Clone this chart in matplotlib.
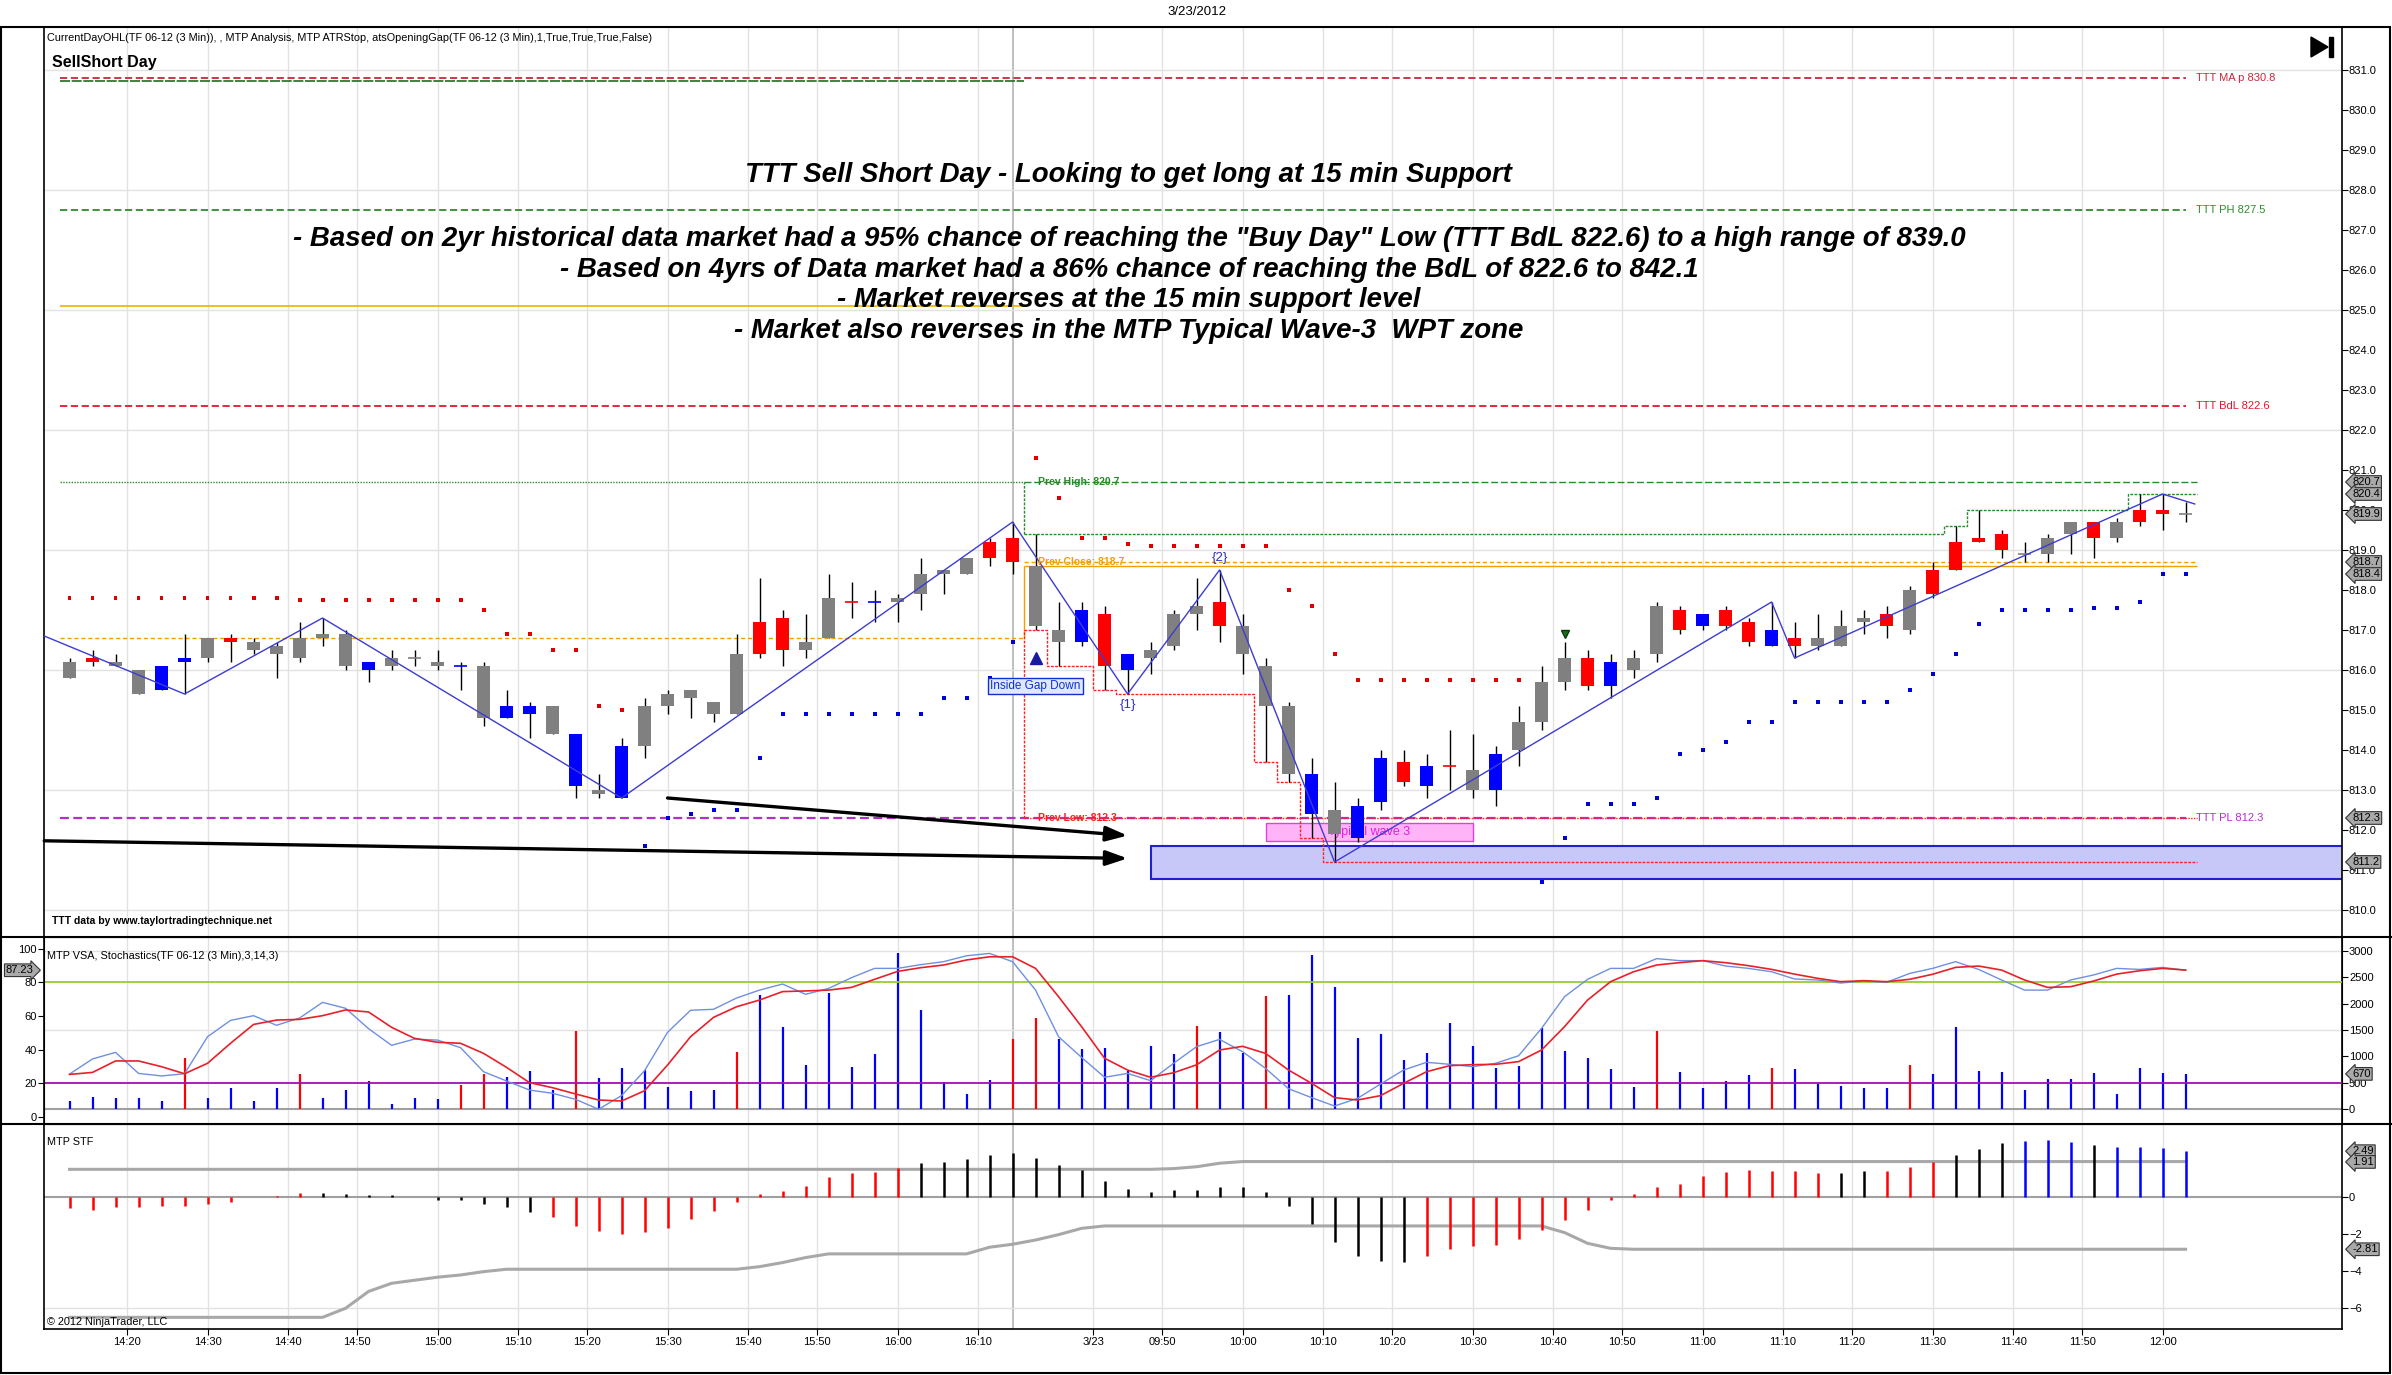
import numpy as np
import matplotlib
matplotlib.use('Agg')
import matplotlib.pyplot as plt
import matplotlib.transforms as mtransforms
from matplotlib.patches import Rectangle, Polygon
from matplotlib.lines import Line2D

plt.rcParams['font.family'] = ['Liberation Sans', 'DejaVu Sans']

# ---------------- data (TF 06-12, 3 min bars) ----------------
opens = [815.8, 816.3, 816.2, 816.0, 815.5, 816.2, 816.3, 816.8, 816.7, 816.6,
         816.3, 816.8, 816.9, 816.0, 816.1, 816.3, 816.2, 816.1, 816.1, 814.8,
         815.1, 815.1, 814.4, 813.0, 812.8, 814.1, 815.1, 815.5, 815.2, 814.9,
         816.4, 817.3, 816.5, 816.8, 817.7, 817.7, 817.7, 817.9, 818.4, 818.4,
         818.8, 819.3, 818.6, 816.7, 816.7, 817.4, 816.0, 816.3, 816.6, 817.4,
         817.7, 817.1, 816.1, 815.1, 813.4, 812.5, 811.8, 812.7, 813.7, 813.1,
         813.6, 813.5, 813.0, 814.0, 814.7, 815.7, 816.3, 815.6, 816.0, 816.4,
         817.5, 817.1, 817.5, 817.2, 817.0, 816.6, 816.8, 816.6, 817.2, 817.4,
         817.0, 817.9, 818.5, 819.2, 819.4, 818.9, 818.9, 819.4, 819.7, 819.3,
         819.7, 820.0, 819.9]
highs = [816.3, 816.5, 816.4, 816.0, 816.1, 816.9, 816.8, 816.9, 816.8, 816.7,
         817.2, 817.3, 817.0, 816.2, 816.5, 816.5, 816.5, 816.2, 816.2, 815.5,
         815.2, 815.1, 814.4, 813.4, 814.3, 815.3, 815.5, 815.5, 815.2, 816.9,
         818.3, 817.5, 817.4, 818.4, 818.2, 818.0, 817.9, 818.8, 818.5, 818.8,
         819.3, 819.7, 819.4, 817.7, 817.7, 817.6, 816.4, 816.7, 817.5, 818.3,
         818.5, 817.4, 816.3, 815.2, 813.8, 813.2, 812.8, 814.0, 814.0, 813.9,
         814.5, 814.4, 814.1, 815.1, 816.1, 816.7, 816.5, 816.4, 816.5, 817.7,
         817.6, 817.4, 817.6, 817.3, 817.7, 817.2, 817.4, 817.5, 817.5, 817.6,
         818.1, 818.7, 819.6, 820.0, 819.5, 819.2, 819.4, 819.7, 819.7, 819.8,
         820.4, 820.4, 820.2]
lows = [815.8, 816.1, 816.1, 815.4, 815.5, 815.4, 816.2, 816.2, 816.4, 815.8,
        816.2, 816.6, 816.0, 815.7, 816.0, 816.1, 816.0, 815.5, 814.6, 814.8,
        814.3, 814.4, 812.8, 812.8, 812.8, 813.8, 814.9, 814.8, 814.7, 814.9,
        816.3, 816.1, 816.3, 816.8, 817.3, 817.2, 817.2, 817.5, 817.9, 818.4,
        818.6, 818.4, 817.0, 816.1, 816.6, 815.5, 815.4, 815.9, 816.5, 817.0,
        816.7, 815.9, 813.7, 813.2, 811.8, 811.2, 811.7, 812.5, 813.1, 812.8,
        813.0, 812.8, 812.6, 813.6, 814.5, 815.5, 815.5, 815.3, 815.8, 816.2,
        816.9, 817.0, 817.0, 816.6, 816.6, 816.3, 816.5, 816.6, 816.9, 816.8,
        816.9, 817.8, 818.5, 819.2, 818.8, 818.7, 818.7, 818.9, 818.8, 819.2,
        819.6, 819.5, 819.7]
closes = [816.2, 816.2, 816.1, 815.4, 816.1, 816.3, 816.8, 816.7, 816.5, 816.4,
          816.8, 816.9, 816.1, 816.2, 816.3, 816.3, 816.1, 816.1, 814.8, 815.1,
          814.9, 814.4, 813.1, 812.9, 814.1, 815.1, 815.4, 815.3, 814.9, 816.4,
          817.2, 816.5, 816.7, 817.8, 817.7, 817.7, 817.8, 818.4, 818.5, 818.8,
          819.2, 818.7, 817.1, 817.0, 817.5, 816.1, 816.4, 816.5, 817.4, 817.6,
          817.1, 816.4, 815.1, 813.4, 812.4, 811.9, 812.6, 813.8, 813.2, 813.6,
          813.6, 813.0, 813.9, 814.7, 815.7, 816.3, 815.6, 816.2, 816.3, 817.6,
          817.0, 817.4, 817.1, 816.7, 816.6, 816.8, 816.6, 817.1, 817.3, 817.1,
          818.0, 818.5, 819.2, 819.3, 819.0, 818.9, 819.3, 819.7, 819.3, 819.7,
          820.0, 819.9, 819.9]
candle_colors = ("grggbbgrgg" "gggbgggbgb" "bgbgbggggg" "rrggrbgggg" "rrggbrbggg"
                 "rgggbgbbrb" "rgbgggrbgg" "rbrrbrgggr" "grrrrgggrg" "rrg")

# ATR stop dots
stop_vals = [817.8, 817.8, 817.8, 817.8, 817.8, 817.8, 817.8, 817.8, 817.8, 817.8,
             817.75, 817.75, 817.75, 817.75, 817.75, 817.75, 817.75, 817.75, 817.5, 816.9,
             816.9, 816.5, 816.5, 815.1, 815.0, 811.6, 812.3, 812.4, 812.5, 812.5,
             813.8, 814.9, 814.9, 814.9, 814.9, 814.9, 814.9, 814.9, 815.3, 815.3,
             815.8, 816.7, 821.3, 820.3, 819.3, 819.3, 819.15, 819.1, 819.1, 819.1,
             819.1, 819.1, 819.1, 818.0, 817.6, 816.4, 815.75, 815.75, 815.75, 815.75,
             815.75, 815.75, 815.75, 815.75, 810.7, 811.8, 812.65, 812.65, 812.65, 812.8,
             813.9, 814.0, 814.2, 814.7, 814.7, 815.2, 815.2, 815.2, 815.2, 815.2,
             815.5, 815.9, 816.4, 817.15, 817.5, 817.5, 817.5, 817.5, 817.55, 817.55,
             817.7, 818.4, 818.4]
stop_colors = ("rrrrrrrrrr" "rrrrrrrrrr" "rrrrrbbbbb" "bbbbbbbbbb" "bbrrrrrrrr"
               "rrrrrrrrrr" "rrrrbbbbbb" "bbbbbbbbbb" "bbbbbbbbbb" "bbb")

# zigzag swing points (bar index, price)
zz_x = [-1.1, 5, 11, 24, 41, 46, 50, 55, 74, 75, 91, 92.4]
zz_y = [816.85, 815.4, 817.3, 812.8, 819.7, 815.4, 818.5, 811.2, 817.7, 816.3, 820.4, 820.15]

# volume (VSA)
volume = [158, 233, 214, 214, 158, 971, 214, 403, 158, 403,
          668, 214, 366, 536, 101, 214, 195, 460, 668, 612,
          725, 366, 1482, 593, 782, 744, 422, 347, 366, 1084,
          2163, 1557, 839, 2200, 801, 1047, 2957, 1879, 517, 290,
          555, 1330, 1727, 1330, 1141, 1160, 725, 1198, 1047, 1576,
          1463, 1066, 2144, 2163, 2919, 2314, 1349, 1425, 933, 1066,
          1633, 1198, 782, 820, 1538, 1103, 971, 763, 422, 1482,
          706, 403, 536, 649, 782, 763, 479, 441, 403, 403,
          839, 668, 1557, 725, 706, 366, 574, 574, 687, 290,
          782, 687, 670]
volume_colors = ("bbbbbrbbbb" "rbbbbbbrrb" "bbrbbbbbbr" "bbbbbbbbbb" "brrbbbbbbr"
                 "bbrbbbbbbb" "bbbbbbbbbr" "bbbbrbbbbb" "rbbbbbbbbb" "bbb")

# stochastics (3,14,3)
stoch_k = [25.5, 34.5, 38.4, 25.9, 24.4, 25.7, 47.7, 57.4, 60.2, 54.5,
           58.8, 68.1, 64.6, 52.5, 42.6, 46.3, 45.7, 41.2, 26.9, 21.4,
           16.0, 14.1, 10.5, 4.6, 12.7, 27.5, 50.3, 63.4, 64.0, 70.7,
           75.4, 79.0, 72.9, 76.4, 82.8, 88.3, 88.3, 90.5, 92.3, 95.8,
           97.2, 92.3, 75.4, 47.7, 35.4, 23.6, 25.9, 21.6, 31.9, 41.8,
           46.1, 38.8, 28.9, 16.8, 11.5, 6.5, 11.1, 19.6, 27.9, 32.5,
           31.3, 29.9, 31.9, 36.4, 52.7, 71.5, 81.8, 88.3, 88.3, 94.1,
           92.9, 92.9, 89.7, 88.3, 86.3, 82.0, 81.4, 79.6, 80.8, 80.0,
           85.3, 88.3, 92.3, 87.7, 81.4, 75.4, 75.4, 81.4, 84.4, 88.3,
           87.7, 88.9, 87.2]
stoch_d = [25.3, 26.5, 33.3, 33.3, 29.9, 25.7, 31.9, 43.8, 55.0, 57.6,
           58.0, 60.2, 63.6, 62.4, 53.3, 46.7, 44.4, 43.8, 37.8, 29.5,
           20.4, 17.4, 13.7, 10.1, 9.5, 15.6, 30.9, 47.7, 59.2, 65.5,
           69.5, 74.5, 74.9, 75.4, 77.0, 81.8, 86.5, 88.7, 90.3, 93.3,
           95.2, 95.2, 88.3, 71.5, 53.7, 34.9, 27.9, 23.6, 26.3, 31.0,
           39.8, 42.0, 37.8, 27.9, 20.0, 11.5, 10.1, 12.7, 20.0, 26.9,
           30.5, 31.1, 31.3, 32.9, 39.8, 53.7, 69.5, 80.4, 86.3, 90.3,
           91.7, 92.9, 91.7, 89.9, 87.7, 84.9, 82.4, 80.4, 81.0, 80.4,
           81.8, 84.8, 88.9, 89.7, 87.3, 81.4, 77.0, 77.4, 80.8, 84.9,
           86.9, 88.3, 87.3]

# MTP STF histogram and bands
stf = [-0.56, -0.68, -0.50, -0.50, -0.47, -0.47, -0.36, -0.23, 0.0, 0.05,
       0.22, 0.22, 0.16, 0.11, 0.11, 0.0, -0.13, -0.13, -0.34, -0.50,
       -0.79, -1.05, -1.53, -1.80, -1.96, -1.86, -1.64, -1.15, -0.72, -0.23,
       0.16, 0.34, 0.61, 1.10, 1.30, 1.39, 1.60, 1.84, 1.91, 2.07,
       2.27, 2.40, 2.13, 1.75, 1.48, 0.88, 0.45, 0.29, 0.38, 0.38,
       0.56, 0.56, 0.27, -0.47, -1.44, -2.40, -3.15, -3.42, -3.48, -3.15,
       -2.79, -2.61, -2.56, -2.23, -1.75, -1.21, -0.67, -0.13, 0.18, 0.56,
       0.72, 1.15, 1.37, 1.48, 1.42, 1.42, 1.32, 1.32, 1.42, 1.42,
       1.64, 1.91, 2.29, 2.61, 2.94, 3.05, 3.10, 2.99, 2.83, 2.72,
       2.72, 2.67, 2.49]
stf_colors = ("rrrrrrrrrr" "rkkkkkkkkk" "krrrrrrrrr" "rrrrrrrkkk" "kkkkkkkkkk"
              "kkkkkkkkkr" "rrrrrrrrrr" "rrrrrrrkkr" "rrkkkbbbkb" "bbb")
upper_band_x = [0, 47, 48, 49, 50, 51, 92]
upper_band_y = [1.51, 1.51, 1.55, 1.65, 1.84, 1.93, 1.93]
lower_band_x = [0, 11, 12, 13, 14, 16, 17, 18, 19, 29, 30, 31, 32, 33, 39, 40, 41,
                42, 43, 44, 45, 64, 65, 66, 67, 68, 92]
lower_band_y = [-6.49, -6.49, -6.0, -5.09, -4.65, -4.32, -4.2, -4.02, -3.89, -3.89,
                -3.75, -3.53, -3.26, -3.06, -3.06, -2.70, -2.54, -2.31, -2.02, -1.68,
                -1.55, -1.55, -1.91, -2.49, -2.76, -2.81, -2.81]

# levels
ttt_levels = [830.8, 827.5, 822.6, 812.3]
ttt_labels = ['TTT MA p 830.8', 'TTT PH 827.5', 'TTT BdL 822.6', 'TTT PL 812.3']
ttt_colors = ['#c8283c', '#2e8b2e', '#e8142c', '#b030c8']
prior_ma, prior_mid = 830.72, 825.1
prev_high, prev_close, prev_low, prev_open = 820.7, 818.7, 812.3, 816.8
day_open = 818.6
price_tags = [820.7, 820.4, 819.9, 818.7, 818.4, 812.3, 811.2]

# sessions / time axis
session1_start, session1_bars = '14:12', 42
session2_start = '09:33'
tick_labels = ['14:20', '14:30', '14:40', '14:50', '15:00', '15:10', '15:20', '15:30',
               '15:40', '15:50', '16:00', '16:10', '3/23', '09:50', '10:00', '10:10',
               '10:20', '10:30', '10:40', '10:50', '11:00', '11:10', '11:20', '11:30',
               '11:40', '11:50', '12:00']
tick_times = tick_labels[:12] + ['09:40'] + tick_labels[13:]

text_lines = ['TTT Sell Short Day - Looking to get long at 15 min Support',
              '- Based on 2yr historical data market had a 95% chance of reaching the "Buy Day" Low (TTT BdL 822.6) to a high range of 839.0',
              '- Based on 4yrs of Data market had a 86% chance of reaching the BdL of 822.6 to 842.1',
              '- Market reverses at the 15 min support level',
              '- Market also reverses in the MTP Typical Wave-3  WPT zone']


def minutes(t):
    hh, mm = t.split(':')
    return int(hh) * 60 + int(mm)


tick_pos = []
for t in tick_times:
    m = minutes(t)
    if m >= minutes(session1_start):
        k = (m - minutes(session1_start)) / 3
    else:
        k = session1_bars + (m - minutes(session2_start)) / 3
    tick_pos.append(np.round(k * 2) / 2)
session_break = session1_bars - 1

cmap = {'g': '#808080', 'r': '#ff0000', 'b': '#0000ff', 'k': '#000000'}
n = len(opens)
x = np.arange(n)
o, h, l, c = (np.array(v) for v in (opens, highs, lows, closes))

W, H = 2392.0, 1375.0
fig = plt.figure(figsize=(W / 100, H / 100), dpi=100)


def panel(y0, y1):
    return fig.add_axes([44 / W, 1 - y1 / H, (2342 - 44) / W, (y1 - y0) / H])


ax1 = panel(27, 937)
ax2 = panel(937, 1124)
ax3 = panel(1124, 1329)
XL = (-1.11, 98.8)
grid_c = '#e2e2e2'

for ax in (ax1, ax2, ax3):
    ax.set_xlim(*XL)
    ax.set_xticks(tick_pos)
    for p in tick_pos:
        ax.axvline(p, color=grid_c, lw=1, zorder=0)
    ax.axvline(session_break, color='#b4b4b4', lw=1.2, zorder=0)
    for s in ax.spines.values():
        s.set_linewidth(1.2)
    ax.tick_params(axis='x', length=0, labelbottom=False)

# ---------------- price panel ----------------
ax1.set_ylim(809.325, 832.075)
ax1.yaxis.tick_right()
ax1.set_yticks(np.arange(810, 832, 1.0))
ax1.set_yticklabels(['%.1f' % v for v in np.arange(810, 832, 1.0)])
ax1.tick_params(axis='y', labelsize=8, length=4, direction='out', pad=1)
for g in np.arange(810, 832, 3):
    ax1.axhline(g, color=grid_c, lw=1, zorder=0)

# zones
ax1.add_patch(Rectangle((47.0, 810.77), 60, 0.83, fc='#c8c8f8', ec='#2020d0', lw=1.5, zorder=1))
ax1.add_patch(Rectangle((52.0, 811.73), 9.04, 0.44, fc='#ffb4f8', ec='#e040e0', lw=1, zorder=1))
ax1.text(56.5, 811.96, 'Typical wave 3', color='#e020e0', fontsize=9, ha='center', va='center', zorder=1.5)

# TTT levels
for v, lab, col in zip(ttt_levels, ttt_labels, ttt_colors):
    lw = 1.6 if lab.startswith('TTT PL') else 1.3
    ax1.hlines(v, -0.4, 92.0, colors=col, linestyles=(0, (4, 2)), lw=lw, zorder=2)
    ax1.text(92.45, v, lab, color=col, fontsize=8, va='center', ha='left', zorder=6)
ax1.hlines(prior_ma, -0.4, 41.5, colors='#1e6e1e', linestyles=(0, (6, 1)), lw=1.2, zorder=2)
ax1.hlines(prior_mid, -0.4, 41.5, colors='#f0b000', lw=1.2, zorder=2)

# current day OHL lines
ax1.hlines(prev_high, -0.4, 41.5, colors='#2a8a2a', linestyles=(0, (1, 1)), lw=1, zorder=2)
ax1.hlines(prev_high, 41.5, 92.5, colors='#2a8a2a', linestyles=(0, (5, 2)), lw=1, zorder=2)
ax1.hlines(prev_open, -0.4, 41.5, colors='#f0a000', linestyles=(0, (3, 2)), lw=1, zorder=2)
ax1.hlines(day_open, 41.5, 92.5, colors='#f0a000', lw=1, zorder=2)
ax1.hlines(prev_close, 41.5, 92.5, colors='#f0a000', linestyles=(0, (3, 2)), lw=1, zorder=2)
ax1.hlines(prev_low, 41.5, 92.5, colors='#ff2020', linestyles=(0, (1, 1)), lw=1, zorder=2.1)
ax1.vlines(41.5, day_open, prev_open, colors='#f0a000', lw=1, zorder=2)
run_hi = np.maximum.accumulate(h[session1_bars:])
run_lo = np.minimum.accumulate(l[session1_bars:])
sx = np.append(x[session1_bars:] - 0.5, 92.5)
ax1.step(sx, np.append(run_hi, run_hi[-1]), where='post', color='#2a8a2a', ls=(0, (2, 1)), lw=1, zorder=2)
ax1.vlines(41.5, run_hi[0], prev_high, colors='#2a8a2a', linestyles=(0, (2, 1)), lw=1, zorder=2)
ax1.step(sx, np.append(run_lo, run_lo[-1]), where='post', color='#ff2020', ls=(0, (2, 1)), lw=1, zorder=2)
ax1.vlines(41.5, prev_low, run_lo[0], colors='#ff2020', linestyles=(0, (2, 1)), lw=1, zorder=2)
ax1.text(42.1, prev_high, 'Prev High: %.1f' % prev_high, color='#2a8a2a', fontsize=7.5,
         fontweight='bold', va='center', zorder=6)
ax1.text(42.1, prev_close, 'Prev Close: %.1f' % prev_close, color='#f0a000', fontsize=7.5,
         fontweight='bold', va='center', zorder=6)
ax1.text(42.1, prev_low, 'Prev Low: %.1f' % prev_low, color='#ff2020', fontsize=7.5,
         fontweight='bold', va='center', zorder=6)

# candles
top = np.maximum(o, c)
bot = np.minimum(o, c)
cols = np.array([cmap[k] for k in candle_colors])
ax1.vlines(x, l, h, colors='black', lw=1, zorder=3)
ax1.bar(x, top - bot, bottom=bot, width=0.56, color=cols, lw=0, zorder=4)
doji = (top - bot) < 0.05
ax1.hlines(top[doji], x[doji] - 0.3, x[doji] + 0.3, colors=cols[doji], lw=1.2, zorder=4)

# zigzag + stops
ax1.plot(zz_x, zz_y, color='#3c3cd0', lw=1, zorder=5)
ax1.text(46, 815.12, '{1}', color='#3030c0', fontsize=9.5, ha='center', va='center', zorder=6)
ax1.text(50, 818.8, '{2}', color='#3030c0', fontsize=9.5, ha='center', va='center', zorder=6)
stop_cols = ['#e00000' if k == 'r' else '#0000d8' for k in stop_colors]
ax1.scatter(x, stop_vals, marker='s', s=8, c=stop_cols, lw=0, zorder=5)

# markers / labels
ax1.plot([42], [816.3], marker='^', ms=9, color='#1a1aa0', zorder=6)
ax1.plot([65], [816.9], marker='v', ms=6, color='#1a6b1a', mec='#0a3a0a', zorder=6)
ax1.text(42.0, 815.6, 'Inside Gap Down', color='#1030d0', fontsize=8.5, ha='center', va='center', zorder=6,
         bbox=dict(boxstyle='square,pad=0.2', fc='#dfe8ff', ec='#1030d0', lw=1))

arrows = [((26.0, 812.8), (46.0, 811.86)), ((-1.1, 811.73), (46.0, 811.29))]
for (x0, y0), (x1, y1) in arrows:
    ax1.annotate('', xy=(x1, y1), xytext=(x0, y0), zorder=6, annotation_clip=False,
                 arrowprops=dict(arrowstyle='-|>,head_length=1.3,head_width=0.45', color='black',
                                 lw=2.4, shrinkA=0, shrinkB=0))

# texts
ax1.text(0.0015, 0.988, 'CurrentDayOHL(TF 06-12 (3 Min)), , MTP Analysis, MTP ATRStop, '
         'atsOpeningGap(TF 06-12 (3 Min),1,True,True,True,False)',
         transform=ax1.transAxes, fontsize=7.8, va='center')
ax1.text(0.0035, 0.9615, 'SellShort Day', transform=ax1.transAxes, fontsize=11.5,
         fontweight='bold', va='center')
ax1.text(0.0035, 0.0176, 'TTT data by www.taylortradingtechnique.net', transform=ax1.transAxes,
         fontsize=7.5, fontweight='bold', va='center')
for line, yp in zip(text_lines, [175, 239, 270, 300, 331]):
    ax1.text(0.4721, (937 - yp) / 910, line, transform=ax1.transAxes, ha='center', va='center',
             fontsize=19.9, fontweight='bold', fontstyle='italic', zorder=7)


def tag(ax, val, txt, side='right'):
    tr = mtransforms.blended_transform_factory(ax.transAxes, ax.transData)
    if side == 'right':
        ax.text(1.0045, val, txt, transform=tr, ha='left', va='center', fontsize=8, zorder=10,
                bbox=dict(boxstyle='larrow,pad=0.12', fc='#a9a9a9', ec='#333333', lw=0.8))
    else:
        ax.text(-0.0045, val, txt, transform=tr, ha='right', va='center', fontsize=8, zorder=10,
                bbox=dict(boxstyle='rarrow,pad=0.12', fc='#a9a9a9', ec='#333333', lw=0.8))


for v in price_tags:
    tag(ax1, v, '%.1f' % v)

# ---------------- volume / stochastics panel ----------------
ax2s = ax2.twinx()
ax2.set_ylim(-278, 3259)
ax2.yaxis.tick_right()
ax2.set_yticks(np.arange(0, 3001, 500))
ax2.tick_params(axis='y', labelsize=8, length=4, direction='out', pad=1,
                left=False, labelleft=False, right=True, labelright=True)
for g in (1500, 3000):
    ax2.axhline(g, color=grid_c, lw=1, zorder=0)
ax2.axhline(0, color='#a0a0a0', lw=1.5, zorder=1)
ax2.vlines(x, 0, volume, colors=[cmap[k] for k in volume_colors], lw=1.6, zorder=2)
ax2s.set_xlim(*XL)
ax2s.set_ylim(-4.16, 106.95)
ax2s.set_yticks(np.arange(0, 101, 20))
ax2s.tick_params(axis='y', labelsize=8, length=4, direction='out', pad=1,
                 left=True, labelleft=True, right=False, labelright=False)
ax2s.axhline(20, color='#a010b0', lw=1.3)
ax2s.axhline(80, color='#9acd32', lw=1.3)
ax2s.plot(x, stoch_k, color='#6f8fe0', lw=1)
ax2s.plot(x, stoch_d, color='#e8202a', lw=1.2)
ax2s.text(0.0015, 0.898, 'MTP VSA, Stochastics(TF 06-12 (3 Min),3,14,3)', transform=ax2s.transAxes,
          fontsize=7.8, va='center')
tag(ax2s, stoch_k[-1], '%.2f' % 87.23, side='left')
tag(ax2, volume[-1], '%d' % volume[-1])

# ---------------- STF panel ----------------
ax3.set_ylim(-7.12, 3.96)
ax3.yaxis.tick_right()
ax3.set_yticks([-6, -4, -2, 0])
ax3.tick_params(axis='y', labelsize=8, length=4, direction='out', pad=1)
ax3.axhline(-6, color=grid_c, lw=1, zorder=0)
ax3.axhline(0, color='#a0a0a0', lw=1.5, zorder=1)
ax3.vlines(x, 0, stf, colors=[cmap[k] for k in stf_colors], lw=1.8, zorder=2)
ax3.plot(upper_band_x, upper_band_y, color='#a8a8a8', lw=2.2, zorder=1.5)
ax3.plot(lower_band_x, lower_band_y, color='#a8a8a8', lw=2.2, zorder=1.5)
ax3.text(0.0015, 0.912, 'MTP STF', transform=ax3.transAxes, fontsize=7.8, va='center')
ax3.text(0.0015, 0.01, '\u00a9 2012 NinjaTrader, LLC', transform=ax3.transAxes, fontsize=7.8, va='bottom')
tag(ax3, stf[-1], '%.2f' % stf[-1])
tag(ax3, 1.91, '1.91')
tag(ax3, -2.81, '-2.81')
ax3.set_xticklabels(tick_labels)
ax3.tick_params(axis='x', length=4, direction='out', labelbottom=True, labelsize=8, pad=2)

# ---------------- frame / decorations ----------------
fig.patches.append(Rectangle((1 / W, 1 - 1373 / H), 2389 / W, (1373 - 27) / H, transform=fig.transFigure,
                             fill=False, ec='black', lw=1.5))
for yy in (937, 1124):
    fig.lines.append(Line2D([0, 1], [1 - yy / H] * 2, transform=fig.transFigure, color='black', lw=1.5))
fig.patches.append(Polygon([[2311 / W, 1 - 37 / H], [2328 / W, 1 - 47 / H], [2311 / W, 1 - 57 / H]],
                           closed=True, transform=fig.transFigure, fc='black', ec='black'))
fig.patches.append(Rectangle((2329 / W, 1 - 57 / H), 3.5 / W, 20 / H, transform=fig.transFigure,
                             fc='black', ec='black'))
fig.text(1197 / W, 1 - 12 / H, '3/23/2012', ha='center', va='center', fontsize=9.5)

fig.savefig('out.png', dpi=100)
